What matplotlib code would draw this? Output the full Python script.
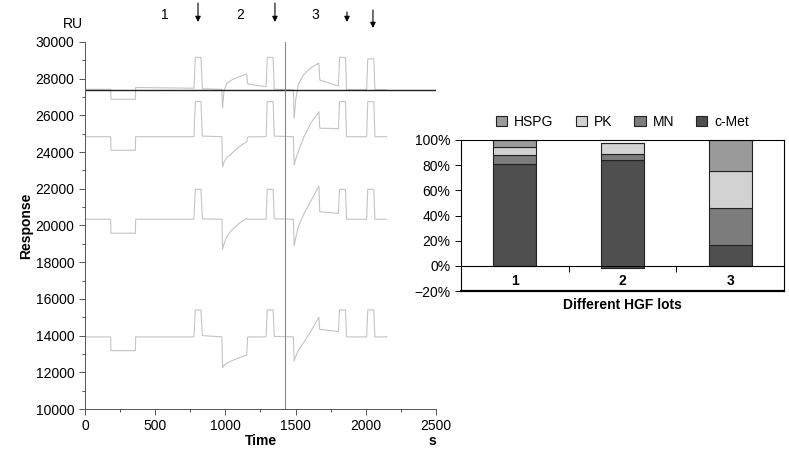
import numpy as np
import matplotlib.pyplot as plt
from matplotlib.patches import Patch
from matplotlib.ticker import MultipleLocator, FuncFormatter

plt.rcParams['font.family'] = ['Liberation Sans', 'DejaVu Sans']
plt.rcParams['font.size'] = 10

# sensorgram time points (s), shared by all four traces
t = [0, 183, 185, 359, 361, 776, 786, 826, 836, 975, 980, 990, 1010, 1045,
     1104, 1152, 1158, 1165, 1290, 1298, 1340, 1348, 1484, 1490, 1500, 1520,
     1560, 1610, 1666, 1672, 1805, 1813, 1855, 1863, 2006, 2014, 2057, 2065, 2149]

# response (RU) of each flow cell
fc1 = [27420, 27420, 26880, 26880, 27520, 27480, 29160, 29160, 27450, 27420,
       26400, 27350, 27740, 27930, 28130, 28260, 27750, 27700, 27560, 29160,
       29160, 27420, 27400, 25850, 26800, 27700, 28250, 28600, 28850, 27930,
       27600, 29160, 29160, 27400, 27400, 29080, 29080, 27400, 27400]
fc2 = [24840, 24840, 24100, 24100, 24840, 24840, 26750, 26750, 24870, 24840,
       23200, 23450, 23700, 23930, 24330, 24560, 24810, 24830, 24840, 26750,
       26750, 24870, 24840, 23300, 23600, 24050, 24850, 25600, 26200, 25300,
       25280, 26750, 26750, 24840, 24840, 26750, 26750, 24840, 24840]
fc3 = [20340, 20340, 19580, 19580, 20340, 20340, 21970, 21970, 20360, 20340,
       18700, 19000, 19400, 19750, 20150, 20390, 20340, 20340, 20340, 21970,
       21970, 20360, 20340, 18880, 19300, 19950, 20650, 21350, 22150, 20750,
       20660, 21970, 21970, 20340, 20340, 21970, 21970, 20340, 20340]
fc4 = [13930, 13930, 13180, 13180, 13930, 13930, 15400, 15400, 14000, 13930,
       12250, 12380, 12500, 12630, 12810, 12940, 13900, 13930, 13930, 15400,
       15400, 13960, 13930, 12620, 12850, 13200, 13650, 14250, 15000, 14340,
       14220, 15400, 15400, 13930, 13930, 15400, 15400, 13930, 13930]

baseline = 27400
split_time = 1427
inj_labels = ['1', '2', '3']
inj_label_t = [570, 1104, 1638]
arrow_t = [805, 1353, 1866, 2051]
arrow_top = [32125, 32125, 31635, 31744]
arrow_tip = [31090, 31090, 31090, 30763]

# composition of HGF lots (%)
lots = ['1', '2', '3']
cmet_start = [0, -1.5, 0]
cmet = [81, 86, 16.5]
mn = [7, 4, 29.5]
pk = [6.5, 9, 29]
hspg = [5.5, 0, 25]

fig = plt.figure(figsize=(7.89, 4.5), dpi=100)

# ---- left: sensorgram
ax = fig.add_axes([0.1077, 0.0911, 0.4449, 0.8156])
for y in [fc1, fc2, fc3, fc4]:
    ax.plot(t, y, color='#c4c4c4', lw=0.8)
ax.axhline(baseline, color='#222222', lw=1.0)
ax.axvline(split_time, color='#8a8a8a', lw=0.8)
ax.set_xlim(0, 2500)
ax.set_ylim(10000, 30000)
ax.xaxis.set_major_locator(MultipleLocator(500))
ax.xaxis.set_minor_locator(MultipleLocator(250))
ax.yaxis.set_major_locator(MultipleLocator(2000))
ax.yaxis.set_minor_locator(MultipleLocator(1000))
ax.tick_params(which='major', length=4, width=0.7, color='#555555', labelsize=10)
ax.tick_params(which='minor', length=2, width=0.7, color='#555555')
for s in ['top', 'right']:
    ax.spines[s].set_visible(False)
for s in ['left', 'bottom']:
    ax.spines[s].set_color('#555555')
    ax.spines[s].set_linewidth(0.7)
ax.set_ylabel('Response', fontweight='bold', labelpad=2)
ax.text(0.5, -0.087, 'Time', transform=ax.transAxes, ha='center', va='center',
        fontweight='bold')
ax.text(-0.035, 1.03, 'RU', transform=ax.transAxes, ha='center', va='bottom')
ax.text(0.99, -0.087, 's', transform=ax.transAxes, ha='center', va='center',
        fontweight='bold')
for lab, x in zip(inj_labels, inj_label_t):
    ax.text(x, 31470, lab, ha='center', va='center', clip_on=False)
for x, y0, y1 in zip(arrow_t, arrow_top, arrow_tip):
    ax.annotate('', xy=(x, y1), xytext=(x, y0), annotation_clip=False,
                arrowprops=dict(arrowstyle='-|>', color='black', lw=0.8,
                                mutation_scale=8, shrinkA=0, shrinkB=0))

# ---- right: stacked composition bars
bx = fig.add_axes([0.5843, 0.3533, 0.4094, 0.3356])
x = np.arange(1, len(lots) + 1)
w = 0.4
cols = {'c-Met': '#4f4f4f', 'MN': '#7c7c7c', 'PK': '#d2d2d2', 'HSPG': '#9a9a9a'}
b = np.array(cmet_start, dtype=float)
for name, vals in [('c-Met', cmet), ('MN', mn), ('PK', pk), ('HSPG', hspg)]:
    vals = np.array(vals, dtype=float)
    bx.bar(x, vals, w, bottom=b, color=cols[name], edgecolor='#222222', lw=0.8)
    b = b + vals
bx.set_xlim(0.5, 3.5)
bx.set_ylim(-20, 100)
bx.yaxis.set_major_locator(MultipleLocator(20))
bx.yaxis.set_major_formatter(FuncFormatter(lambda v, p: f'{v:.0f}%'.replace('-', '\u2212')))
bx.tick_params(axis='y', length=4, width=0.7, labelsize=10)
bx.spines['bottom'].set_position(('data', 0))
bx.axhline(-20, color='black', lw=1.6, clip_on=False)
for s in bx.spines.values():
    s.set_linewidth(0.8)
bx.set_xticks(x)
bx.set_xticklabels(lots, fontweight='bold')
bx.set_xticks([1.5, 2.5], minor=True)
bx.tick_params(axis='x', which='major', length=0, pad=6, labelsize=10)
bx.tick_params(axis='x', which='minor', length=4, width=0.7)
bx.text(0.5, -0.093, 'Different HGF lots', transform=bx.transAxes, ha='center',
        va='center', fontweight='bold')
handles = [Patch(facecolor=cols[n], edgecolor='#222222', lw=0.8, label=n)
           for n in ['HSPG', 'PK', 'MN', 'c-Met']]
bx.legend(handles=handles, loc='lower center', bbox_to_anchor=(0.5, 1.0), ncol=4,
          frameon=False, handlelength=0.8, handleheight=0.8, handletextpad=0.5,
          columnspacing=1.6, fontsize=10, borderaxespad=0.4)

fig.savefig('out.png', dpi=100)
